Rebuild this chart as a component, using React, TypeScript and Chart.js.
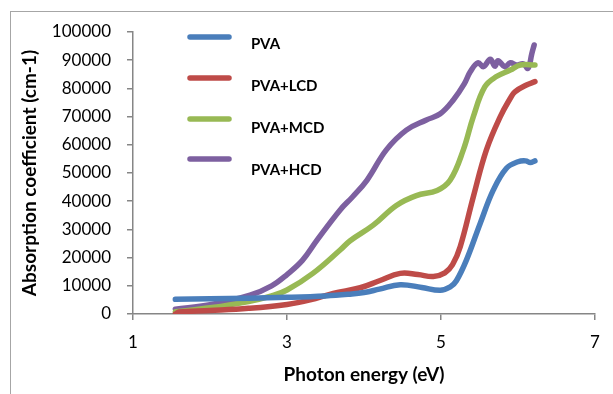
import React, { useEffect, useRef } from "react";
import { Chart, registerables } from "chart.js";

Chart.register(...registerables);

const seriesNames = ["PVA", "PVA+LCD", "PVA+MCD", "PVA+HCD"];
const seriesColors = ["#4A7EBB", "#BE4B48", "#98B954", "#7D60A0"];

const xTicks = [1, 3, 5, 7];

const pvaE = [1.55, 2.0, 2.5, 3.0, 3.5, 3.8, 4.0, 4.2, 4.47, 4.75, 4.99, 5.12, 5.2, 5.33, 5.51, 5.68, 5.85, 6.0, 6.1, 6.16, 6.22];
const pvaA = [5200, 5400, 5600, 5900, 6400, 7000, 7600, 8800, 10400, 9400, 8400, 9600, 11800, 19100, 32200, 44000, 51700, 54000, 54300, 53700, 54300];

const lcdE = [1.55, 1.6, 2.0, 2.5, 3.0, 3.3, 3.6, 3.95, 4.2, 4.47, 4.7, 4.9, 5.05, 5.15, 5.25, 5.42, 5.59, 5.77, 5.9, 5.96, 6.11, 6.22];
const lcdA = [0, 700, 1200, 2000, 3400, 5000, 7300, 9300, 11800, 14400, 14000, 13300, 14600, 17500, 23900, 41600, 58200, 70000, 76500, 78800, 81200, 82400];

const mcdE = [1.55, 2.0, 2.5, 2.8, 3.0, 3.34, 3.69, 3.82, 4.12, 4.42, 4.68, 4.95, 5.12, 5.29, 5.42, 5.57, 5.72, 5.9, 6.03, 6.22];
const mcdA = [800, 2200, 4400, 6400, 8500, 14500, 22700, 26000, 31500, 38500, 42000, 43800, 47500, 58200, 70000, 80600, 84200, 86500, 88300, 88300];

const hcdE = [1.55, 2.0, 2.52, 2.8, 3.0, 3.2, 3.39, 3.69, 3.85, 4.04, 4.29, 4.55, 4.81, 4.99, 5.16, 5.3, 5.38, 5.48, 5.55, 5.64, 5.7, 5.74, 5.83, 5.9, 5.98, 6.07, 6.13, 6.18, 6.21];
const hcdA = [1700, 3300, 6700, 10000, 14000, 19000, 26200, 36900, 41500, 47500, 58200, 65200, 68800, 71000, 75900, 81500, 85900, 89100, 87700, 90300, 87900, 89800, 87700, 89100, 88300, 88700, 87100, 92400, 95400];

const seriesE = [pvaE, lcdE, mcdE, hcdE];
const seriesA = [pvaA, lcdA, mcdA, hcdA];

const legendPlugin = {
  id: "customLegend",
  afterDraw(chart: any) {
    const ctx = chart.ctx;
    const lineY = [37, 78, 119, 159];
    const textY = [44, 86, 128, 170];
    ctx.save();
    seriesNames.forEach((name, i) => {
      ctx.strokeStyle = seriesColors[i];
      ctx.lineWidth = 5.5;
      ctx.lineCap = "round";
      ctx.beginPath();
      ctx.moveTo(190, lineY[i]);
      ctx.lineTo(229, lineY[i]);
      ctx.stroke();
      ctx.fillStyle = "#000";
      ctx.font = "bold 15px Lato";
      ctx.textBaseline = "middle";
      ctx.textAlign = "left";
      ctx.fillText(name, 251, textY[i]);
    });
    ctx.restore();
  },
};

export default function App() {
  const ref = useRef<HTMLCanvasElement>(null);
  useEffect(() => {
    if (!ref.current) return;
    const datasets = seriesNames.map((name, i) => ({
      label: name,
      data: seriesE[i].map((e, j) => ({ x: e, y: seriesA[i][j] })),
      borderColor: seriesColors[i],
      backgroundColor: seriesColors[i],
      borderWidth: 5.5,
      borderCapStyle: "round" as const,
      borderJoinStyle: "round" as const,
      pointRadius: 0,
      tension: 0.4,
      showLine: true,
      fill: false,
    }));
    const chart = new Chart(ref.current, {
      type: "scatter",
      data: { datasets },
      options: {
        animation: false,
        responsive: false,
        devicePixelRatio: 1,
        layout: { padding: { top: 32, right: 18, left: 0, bottom: 0 } },
        plugins: { legend: { display: false }, tooltip: { enabled: false } },
        scales: {
          x: {
            type: "linear",
            min: 1,
            max: 7,
            afterBuildTicks: (s: any) => {
              s.ticks = xTicks.map((v) => ({ value: v }));
            },
            ticks: {
              color: "#000",
              padding: 12,
              font: { family: "Lato", size: 17 },
              callback: (v: any) => String(v),
            },
            grid: { drawOnChartArea: false, drawTicks: true, tickLength: 6, color: "#868686", lineWidth: 1.5 },
            border: { color: "#868686", width: 1.5 },
            title: {
              display: true,
              text: "Photon energy (eV)",
              color: "#000",
              font: { family: "Lato", size: 19, weight: "bold" },
              padding: { top: 0, bottom: 8 },
            },
            afterFit: (s: any) => {
              s.height = 80;
            },
          },
          y: {
            type: "linear",
            min: 0,
            max: 100000,
            ticks: {
              stepSize: 10000,
              color: "#000",
              padding: 16,
              font: { family: "Lato", size: 17 },
              callback: (v: any) => String(v),
            },
            grid: { drawOnChartArea: false, drawTicks: true, tickLength: 6, color: "#868686", lineWidth: 1.5 },
            border: { color: "#868686", width: 1.5 },
            title: {
              display: true,
              text: "Absorption coefficient (cm-1)",
              color: "#000",
              font: { family: "Lato", size: 19, weight: "bold" },
              padding: { top: 18, bottom: 0 },
            },
            afterFit: (s: any) => {
              s.width = 133;
            },
          },
        },
      },
      plugins: [legendPlugin],
    });
    return () => chart.destroy();
  }, []);
  return (
    <div style={{ position: "absolute", left: 0, top: 0, width: 613, height: 394, overflow: "hidden", background: "#fff" }}>
      <div style={{ position: "absolute", left: 10, top: 11, width: 700, height: 500, border: "1px solid #a6a6a6" }} />
      <canvas ref={ref} width={613} height={394} style={{ position: "absolute", left: 0, top: 0, width: 613, height: 394 }} />
    </div>
  );
}
